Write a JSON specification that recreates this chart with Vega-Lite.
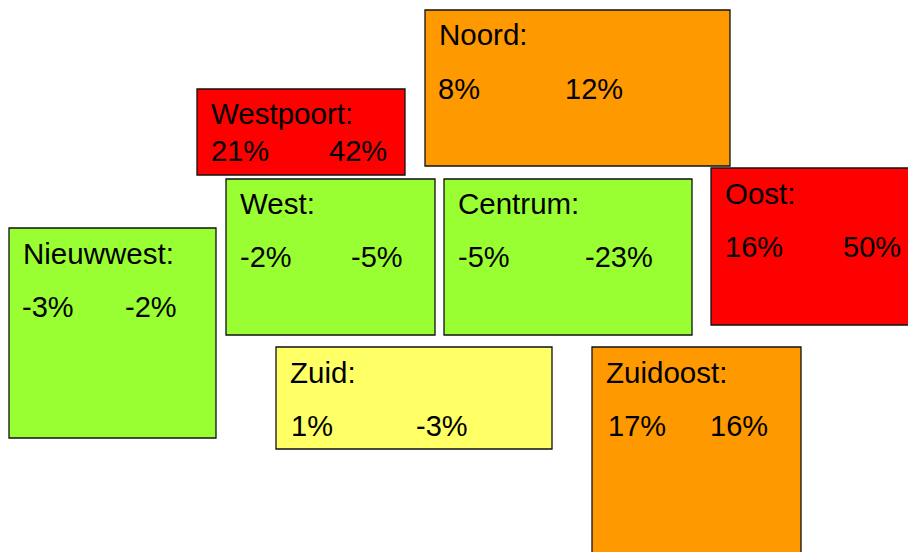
{"$schema":"https://vega.github.io/schema/vega-lite/v6.json","autosize":{"type":"fit","contains":"padding"},"width":908,"height":552,"padding":0,"background":"white","view":{"stroke":null},
"datasets":{"areas":[
{"name":"Noord:","a":"8%","b":"12%","x0":425,"x1":730,"y0":10,"y1":166,"c":"orange"},
{"name":"Westpoort:","a":"21%","b":"42%","x0":197,"x1":405,"y0":89,"y1":175,"c":"red"},
{"name":"Oost:","a":"16%","b":"50%","x0":711,"x1":915,"y0":168,"y1":325,"c":"red"},
{"name":"West:","a":"-2%","b":"-5%","x0":226,"x1":435,"y0":179,"y1":335,"c":"green"},
{"name":"Centrum:","a":"-5%","b":"-23%","x0":444,"x1":692,"y0":179,"y1":335,"c":"green"},
{"name":"Nieuwwest:","a":"-3%","b":"-2%","x0":9,"x1":216,"y0":228,"y1":438,"c":"green"},
{"name":"Zuid:","a":"1%","b":"-3%","x0":276,"x1":552,"y0":347,"y1":449,"c":"yellow"},
{"name":"Zuidoost:","a":"17%","b":"16%","x0":592,"x1":801,"y0":347,"y1":560,"c":"orange"}],
"names":[
{"t":"Noord:","x":439,"y":36},{"t":"Westpoort:","x":211,"y":115},{"t":"Oost:","x":725,"y":195},{"t":"West:","x":240,"y":205},{"t":"Centrum:","x":458,"y":205},{"t":"Nieuwwest:","x":23,"y":255},{"t":"Zuid:","x":290,"y":374},{"t":"Zuidoost:","x":606,"y":374}],
"values":[
{"t":"8%","x":438,"y":90},{"t":"12%","x":565,"y":90},
{"t":"21%","x":211,"y":152},{"t":"42%","x":329,"y":152},
{"t":"16%","x":725,"y":248},{"t":"50%","x":843,"y":248},
{"t":"-2%","x":240,"y":258},{"t":"-5%","x":351,"y":258},
{"t":"-5%","x":458,"y":258},{"t":"-23%","x":585,"y":258},
{"t":"-3%","x":22,"y":308},{"t":"-2%","x":125,"y":308},
{"t":"1%","x":291,"y":427},{"t":"-3%","x":416,"y":427},
{"t":"17%","x":608,"y":427},{"t":"16%","x":710,"y":427}]},
"layer":[
{"data":{"name":"areas"},"mark":{"type":"rect","stroke":"#111111","strokeWidth":1.3,"clip":true},
"encoding":{"x":{"field":"x0","type":"quantitative","scale":{"domain":[0,908],"nice":false,"zero":false},"axis":null},"x2":{"field":"x1"},
"y":{"field":"y0","type":"quantitative","scale":{"domain":[0,552],"range":[0,552],"nice":false,"zero":false},"axis":null},"y2":{"field":"y1"},
"fill":{"field":"c","type":"nominal","legend":null,"scale":{"domain":["orange","red","green","yellow"],"range":["#FF9900","#FF0000","#99FF33","#FFFF66"]}}}},
{"data":{"name":"names"},"mark":{"type":"text","align":"left","baseline":"middle","font":"Liberation Sans","fontSize":29.5,"color":"black","clip":true},
"encoding":{"x":{"field":"x","type":"quantitative","scale":{"domain":[0,908],"nice":false,"zero":false},"axis":null},
"y":{"field":"y","type":"quantitative","scale":{"domain":[0,552],"range":[0,552],"nice":false,"zero":false},"axis":null},"text":{"field":"t"}}},
{"data":{"name":"values"},"mark":{"type":"text","align":"left","baseline":"middle","font":"Liberation Sans","fontSize":29,"color":"black","clip":true},
"encoding":{"x":{"field":"x","type":"quantitative","scale":{"domain":[0,908],"nice":false,"zero":false},"axis":null},
"y":{"field":"y","type":"quantitative","scale":{"domain":[0,552],"range":[0,552],"nice":false,"zero":false},"axis":null},"text":{"field":"t"}}}
]}
